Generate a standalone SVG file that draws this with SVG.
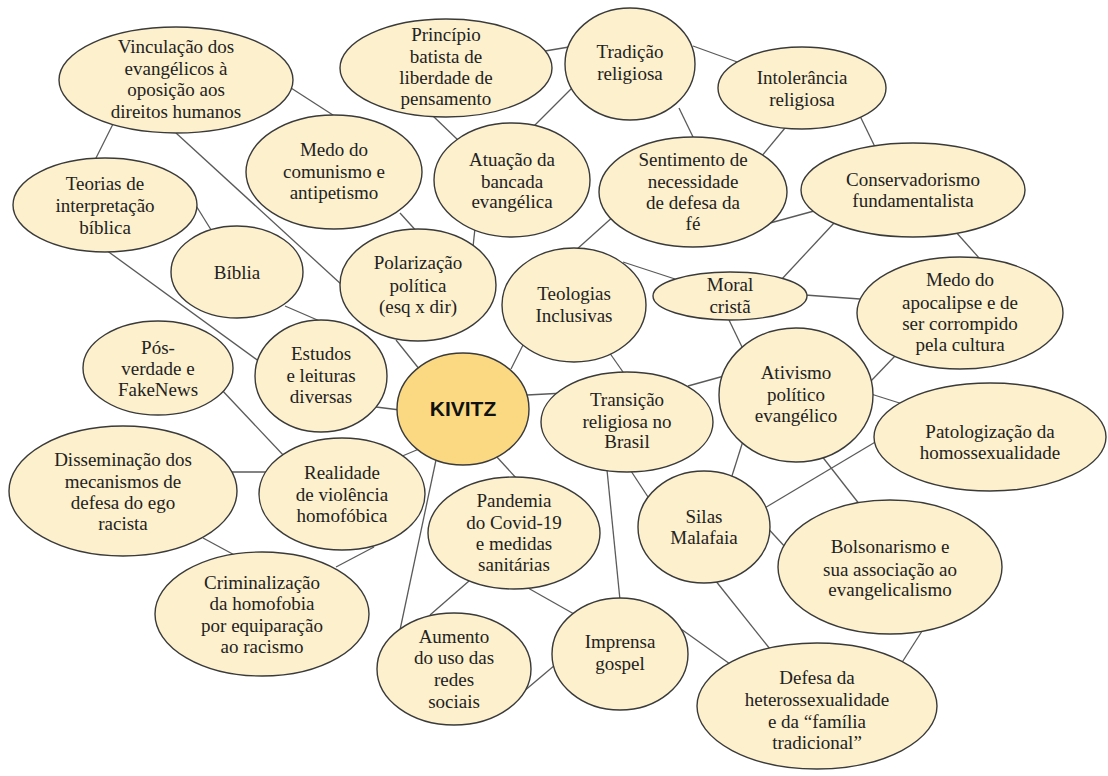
<svg xmlns="http://www.w3.org/2000/svg" width="1108" height="776" viewBox="0 0 1108 776">
<style>
.c line{stroke:#5a5a5a;stroke-width:1.3;fill:none}
.n ellipse{fill:#fdf0cd;stroke:#3a3a3a;stroke-width:1.4}
.n text{font-family:"Liberation Serif","Times New Roman",serif;font-size:19px;fill:#222;text-anchor:middle}
#kivitz ellipse{fill:#fbd983}
#kivitz text{font-family:"Liberation Sans",Arial,sans-serif;font-weight:bold;font-size:21px;fill:#111}
</style>
<rect width="1108" height="776" fill="#fff"/>
<g class="c" id="connectors">
<line x1="291" y1="88" x2="336" y2="117"/>
<line x1="114" y1="122" x2="95" y2="160"/>
<line x1="176" y1="133" x2="342" y2="285"/>
<line x1="195" y1="204" x2="213" y2="233"/>
<line x1="106" y1="250" x2="260" y2="362"/>
<line x1="285" y1="306" x2="322" y2="322"/>
<line x1="545" y1="51" x2="569" y2="47"/>
<line x1="433" y1="116" x2="460" y2="142"/>
<line x1="572" y1="88" x2="531" y2="129"/>
<line x1="679" y1="108" x2="694" y2="139"/>
<line x1="693" y1="46" x2="740" y2="63"/>
<line x1="475" y1="228" x2="473" y2="247"/>
<line x1="400" y1="213" x2="419" y2="234"/>
<line x1="615" y1="215" x2="576" y2="250"/>
<line x1="623" y1="262" x2="675" y2="279"/>
<line x1="524" y1="343" x2="511" y2="369"/>
<line x1="609" y1="352" x2="630" y2="382"/>
<line x1="785" y1="128" x2="761" y2="157"/>
<line x1="860" y1="116" x2="876" y2="149"/>
<line x1="770" y1="223" x2="814" y2="211"/>
<line x1="835" y1="222" x2="781" y2="280"/>
<line x1="955" y1="231" x2="980" y2="259"/>
<line x1="805" y1="295" x2="860" y2="299"/>
<line x1="895" y1="356" x2="870" y2="382"/>
<line x1="729" y1="320" x2="743" y2="349"/>
<line x1="688" y1="386" x2="724" y2="376"/>
<line x1="871" y1="394" x2="909" y2="406"/>
<line x1="743" y1="441" x2="731" y2="479"/>
<line x1="821" y1="455" x2="860" y2="505"/>
<line x1="763" y1="509" x2="877" y2="441"/>
<line x1="631" y1="471" x2="650" y2="500"/>
<line x1="607" y1="470" x2="620" y2="600"/>
<line x1="763" y1="523" x2="787" y2="549"/>
<line x1="715" y1="580" x2="770" y2="649"/>
<line x1="924" y1="628" x2="901" y2="664"/>
<line x1="681" y1="629" x2="730" y2="664"/>
<line x1="527" y1="395" x2="565" y2="393"/>
<line x1="496" y1="456" x2="517" y2="479"/>
<line x1="436" y1="460" x2="400" y2="630"/>
<line x1="419" y1="449" x2="400" y2="457"/>
<line x1="469" y1="581" x2="430" y2="615"/>
<line x1="528" y1="588" x2="574" y2="614"/>
<line x1="523" y1="692" x2="555" y2="665"/>
<line x1="396" y1="340" x2="420" y2="370"/>
<line x1="376" y1="407" x2="400" y2="410"/>
<line x1="220" y1="388" x2="285" y2="457"/>
<line x1="231" y1="472" x2="272" y2="472"/>
<line x1="203" y1="538" x2="240" y2="558"/>
<line x1="336" y1="567" x2="374" y2="547"/>
</g>
<g class="n" id="vinculacao"><ellipse cx="176" cy="80" rx="117" ry="53"/><text><tspan x="176" y="53">Vinculação dos</tspan><tspan x="176" y="74.5">evangélicos à</tspan><tspan x="176" y="96">oposição aos</tspan><tspan x="176" y="117.5">direitos humanos</tspan></text></g>
<g class="n" id="teorias"><ellipse cx="105" cy="205" rx="92" ry="47"/><text><tspan x="105" y="190">Teorias de</tspan><tspan x="105" y="212">interpretação</tspan><tspan x="105" y="234">bíblica</tspan></text></g>
<g class="n" id="biblia"><ellipse cx="237" cy="272" rx="66" ry="46"/><text x="237" y="279">Bíblia</text></g>
<g class="n" id="medo-comunismo"><ellipse cx="334" cy="172" rx="88" ry="57"/><text><tspan x="334" y="156">Medo do</tspan><tspan x="334" y="178">comunismo e</tspan><tspan x="334" y="199">antipetismo</tspan></text></g>
<g class="n" id="principio"><ellipse cx="446" cy="68" rx="106" ry="49"/><text><tspan x="446" y="41">Princípio</tspan><tspan x="446" y="63">batista de</tspan><tspan x="446" y="84">liberdade de</tspan><tspan x="446" y="105">pensamento</tspan></text></g>
<g class="n" id="tradicao"><ellipse cx="630" cy="64" rx="65" ry="56"/><text><tspan x="630" y="58">Tradição</tspan><tspan x="630" y="80">religiosa</tspan></text></g>
<g class="n" id="intolerancia"><ellipse cx="802" cy="88" rx="84" ry="41"/><text><tspan x="802" y="84">Intolerância</tspan><tspan x="802" y="106">religiosa</tspan></text></g>
<g class="n" id="atuacao"><ellipse cx="512" cy="180" rx="78" ry="57"/><text><tspan x="512" y="166">Atuação da</tspan><tspan x="512" y="188">bancada</tspan><tspan x="512" y="208">evangélica</tspan></text></g>
<g class="n" id="sentimento"><ellipse cx="693" cy="192" rx="94" ry="55"/><text><tspan x="693" y="166">Sentimento de</tspan><tspan x="693" y="188">necessidade</tspan><tspan x="693" y="209">de defesa da</tspan><tspan x="693" y="230">fé</tspan></text></g>
<g class="n" id="conservadorismo"><ellipse cx="913" cy="190" rx="112" ry="47"/><text><tspan x="913" y="186">Conservadorismo</tspan><tspan x="913" y="207">fundamentalista</tspan></text></g>
<g class="n" id="polarizacao"><ellipse cx="418" cy="285" rx="78" ry="56"/><text><tspan x="418" y="269">Polarização</tspan><tspan x="418" y="292">política</tspan><tspan x="418" y="313">(esq x dir)</tspan></text></g>
<g class="n" id="teologias"><ellipse cx="574" cy="305" rx="72" ry="57"/><text><tspan x="574" y="300">Teologias</tspan><tspan x="574" y="322">Inclusivas</tspan></text></g>
<g class="n" id="moral"><ellipse cx="730" cy="296" rx="77" ry="24"/><text><tspan x="730" y="291">Moral</tspan><tspan x="730" y="313">cristã</tspan></text></g>
<g class="n" id="medo-apocalipse"><ellipse cx="960" cy="313" rx="103" ry="56"/><text><tspan x="960" y="286">Medo do</tspan><tspan x="960" y="309">apocalipse e de</tspan><tspan x="960" y="330">ser corrompido</tspan><tspan x="960" y="351">pela cultura</tspan></text></g>
<g class="n" id="estudos"><ellipse cx="321" cy="376" rx="66" ry="56"/><text><tspan x="321" y="360">Estudos</tspan><tspan x="321" y="382">e leituras</tspan><tspan x="321" y="403">diversas</tspan></text></g>
<g class="n" id="kivitz"><ellipse cx="463" cy="409" rx="66" ry="56"/><text x="463" y="416" text-anchor="middle">KIVITZ</text></g>
<g class="n" id="pos-verdade"><ellipse cx="158" cy="368" rx="75" ry="47"/><text><tspan x="158" y="354">Pós-</tspan><tspan x="158" y="375">verdade e</tspan><tspan x="158" y="396">FakeNews</tspan></text></g>
<g class="n" id="transicao"><ellipse cx="627" cy="422" rx="86" ry="50"/><text><tspan x="627" y="406">Transição</tspan><tspan x="627" y="428">religiosa no</tspan><tspan x="627" y="448">Brasil</tspan></text></g>
<g class="n" id="ativismo"><ellipse cx="796" cy="395" rx="77" ry="67"/><text><tspan x="796" y="379">Ativismo</tspan><tspan x="796" y="401">político</tspan><tspan x="796" y="422">evangélico</tspan></text></g>
<g class="n" id="patologizacao"><ellipse cx="990" cy="437" rx="116" ry="54"/><text><tspan x="990" y="438">Patologização da</tspan><tspan x="990" y="459">homossexualidade</tspan></text></g>
<g class="n" id="disseminacao"><ellipse cx="123" cy="491" rx="114" ry="65"/><text><tspan x="123" y="466">Disseminação dos</tspan><tspan x="123" y="488">mecanismos de</tspan><tspan x="123" y="509">defesa do ego</tspan><tspan x="123" y="530">racista</tspan></text></g>
<g class="n" id="realidade"><ellipse cx="342" cy="494" rx="83" ry="56"/><text><tspan x="342" y="479">Realidade</tspan><tspan x="342" y="501">de violência</tspan><tspan x="342" y="522">homofóbica</tspan></text></g>
<g class="n" id="criminalizacao"><ellipse cx="262" cy="614" rx="107" ry="62"/><text><tspan x="262" y="589">Criminalização</tspan><tspan x="262" y="610">da homofobia</tspan><tspan x="262" y="632">por equiparação</tspan><tspan x="262" y="653">ao racismo</tspan></text></g>
<g class="n" id="pandemia"><ellipse cx="514" cy="533" rx="86" ry="56"/><text><tspan x="514" y="507">Pandemia</tspan><tspan x="514" y="529">do Covid-19</tspan><tspan x="514" y="550">e medidas</tspan><tspan x="514" y="571">sanitárias</tspan></text></g>
<g class="n" id="silas"><ellipse cx="704" cy="527" rx="66" ry="56"/><text><tspan x="704" y="523">Silas</tspan><tspan x="704" y="544">Malafaia</tspan></text></g>
<g class="n" id="bolsonarismo"><ellipse cx="890" cy="567" rx="112" ry="67"/><text><tspan x="890" y="553">Bolsonarismo e</tspan><tspan x="890" y="576">sua associação ao</tspan><tspan x="890" y="596">evangelicalismo</tspan></text></g>
<g class="n" id="aumento"><ellipse cx="454" cy="669" rx="77" ry="56"/><text><tspan x="454" y="643">Aumento</tspan><tspan x="454" y="664">do uso das</tspan><tspan x="454" y="686">redes</tspan><tspan x="454" y="708">sociais</tspan></text></g>
<g class="n" id="imprensa"><ellipse cx="620" cy="654" rx="68" ry="56"/><text><tspan x="620" y="648">Imprensa</tspan><tspan x="620" y="670">gospel</tspan></text></g>
<g class="n" id="defesa"><ellipse cx="817" cy="706" rx="120" ry="63"/><text><tspan x="817" y="684">Defesa da</tspan><tspan x="817" y="706">heterossexualidade</tspan><tspan x="817" y="728">e da “família</tspan><tspan x="817" y="749">tradicional”</tspan></text></g>
</svg>
